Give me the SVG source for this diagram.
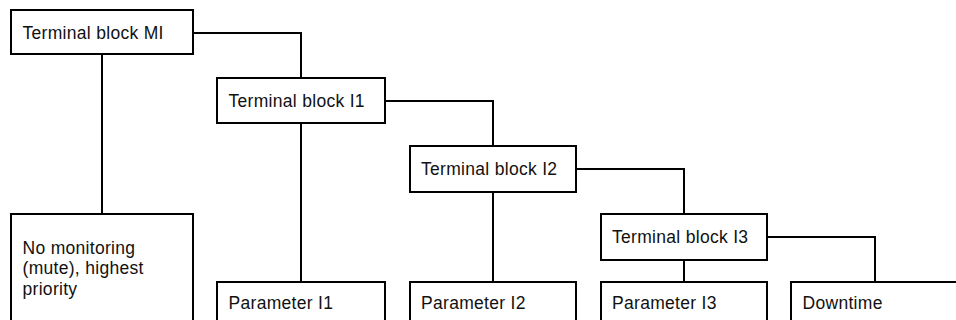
<svg xmlns="http://www.w3.org/2000/svg" width="956" height="320" viewBox="0 0 956 320">
<style>
.box{fill:#fff;stroke:#000;stroke-width:2}
.lbl{font-family:"Liberation Sans",Arial,Helvetica,sans-serif;font-size:17.5px;letter-spacing:0.3px;fill:#111}
.conn{fill:none;stroke:#000;stroke-width:2}
</style>
<rect width="956" height="320" fill="#fff"/>
<g id="connectors">
<path class="conn" d="M193,33 H301 V78"/>
<path class="conn" d="M102,54 V214"/>
<path class="conn" d="M385,101 H493 V146"/>
<path class="conn" d="M301,123 V282"/>
<path class="conn" d="M576,169 H684 V214"/>
<path class="conn" d="M493,192 V282"/>
<path class="conn" d="M767,237 H875 V282"/>
<path class="conn" d="M684,260 V282"/>
</g>
<g id="tb-mi"><rect class="box" x="11" y="10" width="182" height="44"/><text class="lbl" x="22.5" y="38.5">Terminal block MI</text></g>
<g id="tb-i1"><rect class="box" x="217" y="78" width="168" height="45"/><text class="lbl" x="228.5" y="107">Terminal block I1</text></g>
<g id="tb-i2"><rect class="box" x="410" y="146" width="166" height="46"/><text class="lbl" x="421" y="175">Terminal block I2</text></g>
<g id="tb-i3"><rect class="box" x="601" y="214" width="166" height="46"/><text class="lbl" x="612" y="243">Terminal block I3</text></g>
<g id="no-monitoring"><rect class="box" x="11" y="214" width="182" height="130"/><text class="lbl" x="22.5" y="253.5">No monitoring</text><text class="lbl" x="22.5" y="274">(mute), highest</text><text class="lbl" x="22.5" y="294.5">priority</text></g>
<g id="param-i1"><rect class="box" x="217" y="282" width="168" height="60"/><text class="lbl" x="228.5" y="308.5">Parameter I1</text></g>
<g id="param-i2"><rect class="box" x="410" y="282" width="166" height="60"/><text class="lbl" x="421" y="308.5">Parameter I2</text></g>
<g id="param-i3"><rect class="box" x="601" y="282" width="166" height="60"/><text class="lbl" x="612" y="308.5">Parameter I3</text></g>
<g id="downtime"><rect class="box" x="791" y="282" width="200" height="60"/><text class="lbl" x="802.5" y="308.5">Downtime</text></g>
</svg>
